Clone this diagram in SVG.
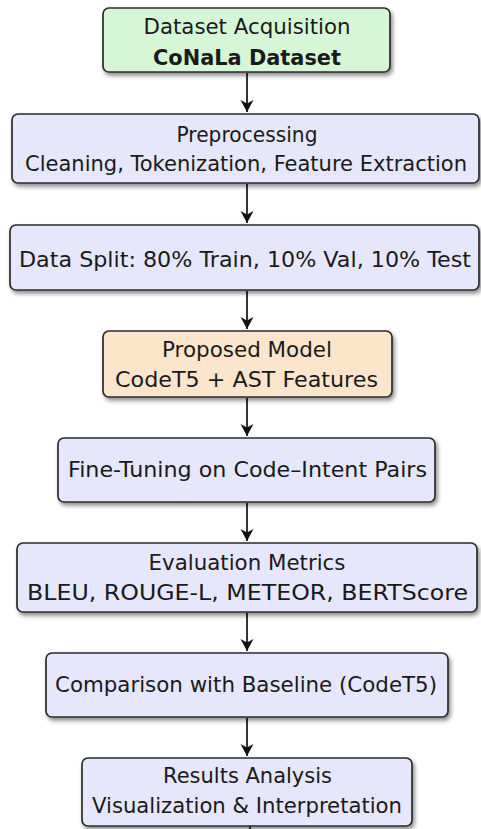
<svg xmlns="http://www.w3.org/2000/svg" width="481" height="829" viewBox="0 0 481 829">
<style>
.box{stroke:#2b2b2b;stroke-width:1.7;filter:url(#sh)}
.blue{fill:#e6e6fc}
.green{fill:#d6f7d6}
.orange{fill:#fde5cc}
text{font-family:"DejaVu Sans","Liberation Sans",sans-serif;font-size:22px;fill:#1a1a1a;text-anchor:middle}
.b{font-weight:bold}
.s{font-size:21px}
.c{stroke:#111;stroke-width:1.7;fill:none;marker-end:url(#ah)}
</style>
<defs>
<filter id="sh" x="-10%" y="-20%" width="120%" height="150%">
<feGaussianBlur in="SourceAlpha" stdDeviation="2"/>
<feOffset dx="2" dy="3" result="o"/>
<feComponentTransfer><feFuncA type="linear" slope="0.45"/></feComponentTransfer>
<feMerge><feMergeNode/><feMergeNode in="SourceGraphic"/></feMerge>
</filter>
<marker id="ah" markerWidth="14" markerHeight="16" refX="12" refY="6.5" orient="auto" markerUnits="userSpaceOnUse">
<path d="M0,0 L12,6.5 L0,13 L3.5,6.5 Z" fill="#111"/>
</marker>
</defs>
<g id="connectors">
<line class="c" x1="247" y1="73" x2="247" y2="112"/>
<line class="c" x1="247" y1="184" x2="247" y2="223"/>
<line class="c" x1="247" y1="291" x2="247" y2="329"/>
<line class="c" x1="247" y1="398" x2="247" y2="436"/>
<line class="c" x1="247" y1="503" x2="247" y2="541"/>
<line class="c" x1="247" y1="613" x2="247" y2="651"/>
<line class="c" x1="247" y1="718" x2="247" y2="756"/>
<line x1="250" y1="826" x2="250" y2="829" stroke="#111" stroke-width="1.7"/>
</g>
<g id="n1">
<rect class="box green" x="103" y="8" width="287" height="64" rx="6"/>
<text x="247" y="34" textLength="207" lengthAdjust="spacingAndGlyphs">Dataset Acquisition</text>
<text class="b" x="247" y="65" textLength="188" lengthAdjust="spacingAndGlyphs">CoNaLa Dataset</text>
</g>
<g id="n2">
<rect class="box blue" x="12" y="114" width="467" height="69" rx="6"/>
<text x="247" y="142" textLength="141" lengthAdjust="spacingAndGlyphs">Preprocessing</text>
<text class="s" x="246" y="171" textLength="442" lengthAdjust="spacingAndGlyphs">Cleaning, Tokenization, Feature Extraction</text>
</g>
<g id="n3">
<rect class="box blue" x="10" y="225" width="469" height="65" rx="6"/>
<text x="245" y="267" textLength="452" lengthAdjust="spacingAndGlyphs">Data Split: 80% Train, 10% Val, 10% Test</text>
</g>
<g id="n4">
<rect class="box orange" x="103" y="331" width="289" height="66" rx="6"/>
<text x="247" y="357" textLength="170" lengthAdjust="spacingAndGlyphs">Proposed Model</text>
<text x="246.5" y="387" textLength="263" lengthAdjust="spacingAndGlyphs">CodeT5 + AST Features</text>
</g>
<g id="n5">
<rect class="box blue" x="58" y="438" width="377" height="64" rx="6"/>
<text x="247.5" y="477" textLength="359" lengthAdjust="spacingAndGlyphs">Fine-Tuning on Code–Intent Pairs</text>
</g>
<g id="n6">
<rect class="box blue" x="17" y="543" width="460" height="69" rx="6"/>
<text x="247" y="570" textLength="197" lengthAdjust="spacingAndGlyphs">Evaluation Metrics</text>
<text x="247.5" y="600" textLength="441" lengthAdjust="spacingAndGlyphs">BLEU, ROUGE-L, METEOR, BERTScore</text>
</g>
<g id="n7">
<rect class="box blue" x="46" y="653" width="402" height="64" rx="6"/>
<text x="246" y="692" textLength="382" lengthAdjust="spacingAndGlyphs">Comparison with Baseline (CodeT5)</text>
</g>
<g id="n8">
<rect class="box blue" x="82" y="758" width="330" height="68" rx="6"/>
<text x="247.5" y="783" textLength="169" lengthAdjust="spacingAndGlyphs">Results Analysis</text>
<text x="247" y="813" textLength="310" lengthAdjust="spacingAndGlyphs">Visualization &amp; Interpretation</text>
</g>
</svg>
